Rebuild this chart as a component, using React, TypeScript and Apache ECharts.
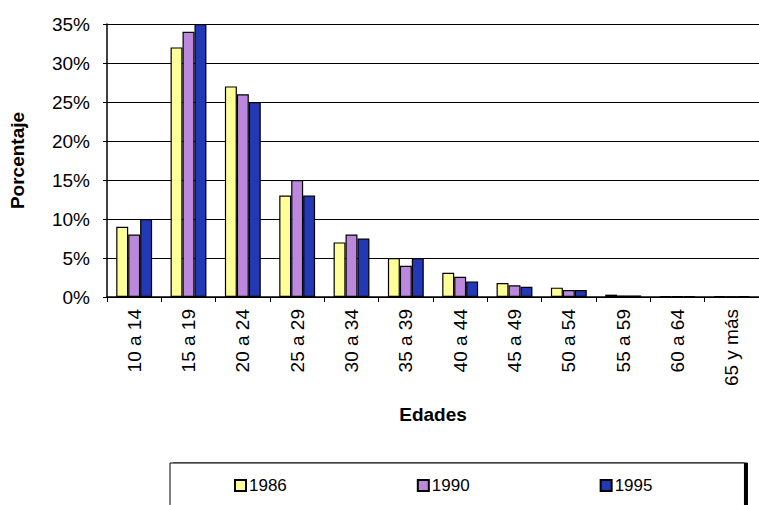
import React, { useEffect, useRef } from "react";
import * as echarts from "echarts";

const categories = ["10 a 14", "15 a 19", "20 a 24", "25 a 29", "30 a 34", "35 a 39", "40 a 44", "45 a 49", "50 a 54", "55 a 59", "60 a 64", "65 y más"];
const s1986 = [9, 32, 27, 13, 7, 5, 3.1, 1.8, 1.2, 0.3, 0.1, 0.1];
const s1990 = [8, 34, 26, 15, 8, 4, 2.6, 1.5, 0.9, 0.2, 0.1, 0.05];
const s1995 = [10, 35, 25, 13, 7.5, 5, 2.0, 1.3, 0.9, 0.2, 0.1, 0.1];
const seriesNames = ["1986", "1990", "1995"];
const colors = ["#FFFF99", "#BB88DD", "#2238B5"];

const FONT = "Liberation Sans, Arial, sans-serif";

export default function App() {
  const ref = useRef<HTMLDivElement>(null);
  useEffect(() => {
    if (!ref.current) return;
    const chart = echarts.init(ref.current, undefined, { renderer: "svg" });
    const data = [s1986, s1990, s1995];
    chart.setOption({
      animation: false,
      backgroundColor: "#ffffff",
      textStyle: { fontFamily: FONT },
      grid: { left: 100, right: -7, top: 24, bottom: 208, containLabel: false },
      legend: {
        data: seriesNames,
        left: 170,
        top: 463,
        orient: "horizontal",
        itemWidth: 11,
        itemHeight: 11,
        itemGap: 130,
        padding: [14, 92, 30, 64],
        borderColor: "#000",
        borderWidth: 1,
        backgroundColor: "#fff",
        shadowColor: "#000",
        shadowOffsetX: 3,
        shadowOffsetY: 0,
        shadowBlur: 0,
        textStyle: { fontFamily: FONT, fontSize: 17, color: "#000", padding: [0, 0, 0, -2] },
        icon: "rect",
      },
      xAxis: {
        type: "category",
        data: categories,
        name: "Edades",
        nameLocation: "middle",
        nameGap: 108,
        nameTextStyle: { fontFamily: FONT, fontSize: 19, fontWeight: "bold", color: "#000" },
        axisLine: { lineStyle: { color: "#000", width: 1.5 } },
        axisTick: { show: true, alignWithLabel: false, length: 5, lineStyle: { color: "#000" } },
        axisLabel: { rotate: 90, fontSize: 19, color: "#000", margin: 12, fontFamily: FONT },
      },
      yAxis: {
        type: "value",
        min: 0,
        max: 35,
        interval: 5,
        name: "Porcentaje",
        nameLocation: "middle",
        nameGap: 80,
        nameTextStyle: { fontFamily: FONT, fontSize: 19, fontWeight: "bold", color: "#000" },
        axisLine: { show: true, lineStyle: { color: "#000", width: 1.5 } },
        axisTick: { show: true, length: 4, lineStyle: { color: "#000" } },
        axisLabel: { formatter: "{value}%", fontSize: 19, color: "#000", margin: 17, fontFamily: FONT },
        splitLine: { show: true, lineStyle: { color: "#000", width: 1 } },
      },
      series: seriesNames.map((name, i) => ({
        name,
        type: "bar",
        data: data[i],
        barGap: "0%",
        barCategoryGap: "34%",
        itemStyle: { color: colors[i], borderColor: "#000", borderWidth: 1.2 },
      })),
    });
    return () => chart.dispose();
  }, []);
  return <div ref={ref} style={{ width: 759, height: 505, position: "absolute", left: 0, top: 0 }} />;
}
